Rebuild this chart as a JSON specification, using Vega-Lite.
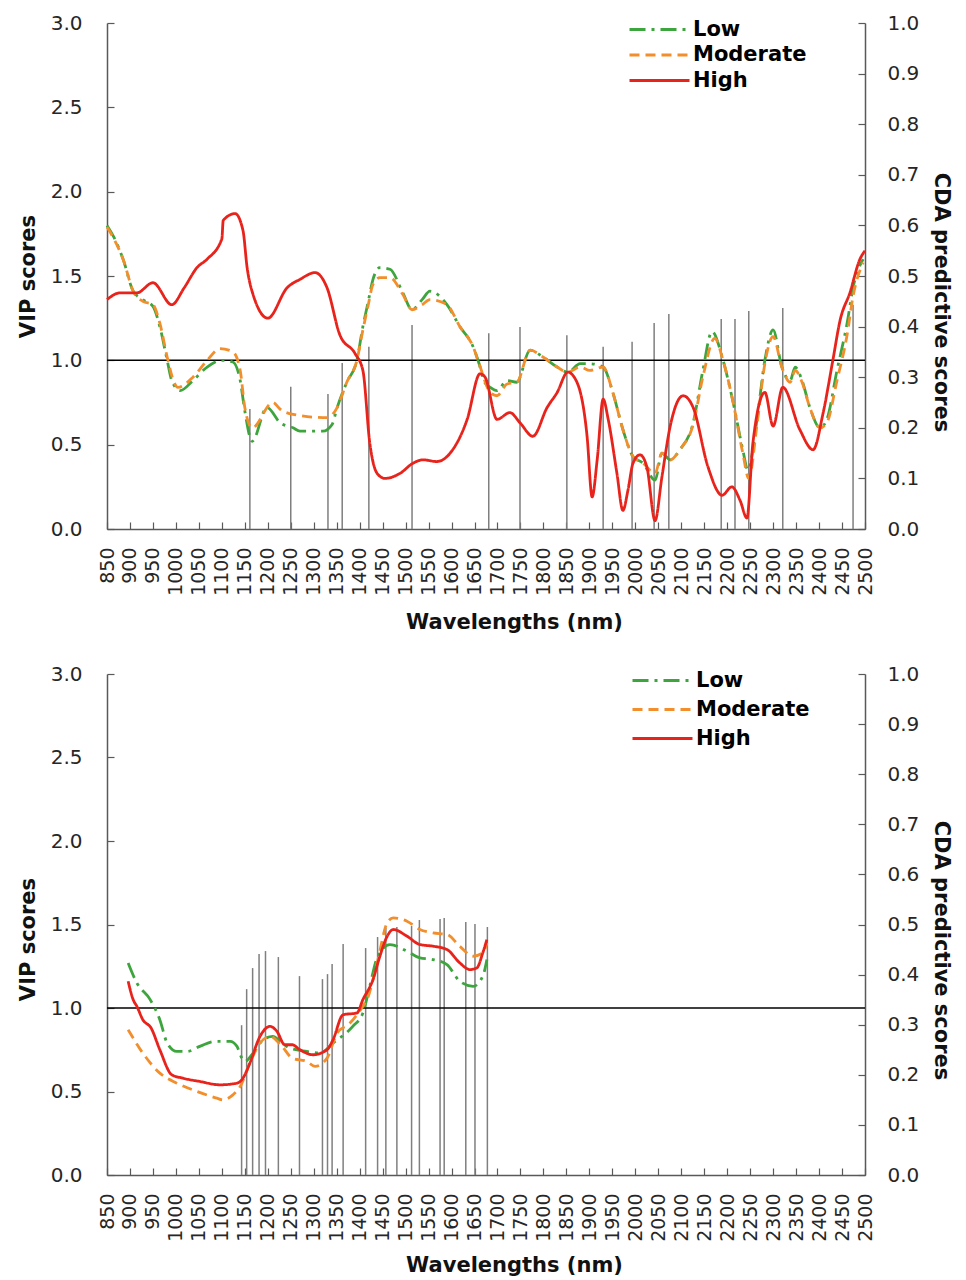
{
  "$schema": "https://vega.github.io/schema/vega-lite/v6.json",
  "padding": {"left": 17, "top": 13, "right": 8, "bottom": 0},
  "background": "white",
  "config": {
    "font": "DejaVu Sans",
    "view": {"stroke": null},
    "concat": {"spacing": 31},
    "axis": {
      "labelFont": "DejaVu Sans", "labelFontSize": 20, "labelColor": "#262626",
      "titleFont": "DejaVu Sans", "titleFontSize": 21, "titleFontWeight": "bold", "titleColor": "#111111",
      "domainColor": "#595959", "domainWidth": 1.5, "tickColor": "#595959", "tickWidth": 1.2, "tickSize": -7,
      "grid": false, "labelFlush": false, "labelOverlap": false, "labelSeparation": 0, "labelBound": false
    },
    "axisX": {"labelOverlap": false},
    "legend": {
      "title": null, "orient": "none",
      "symbolType": "M-3,0L3,0", "symbolSize": 400, "symbolStrokeWidth": 3,
      "labelFont": "DejaVu Sans", "labelFontSize": 21, "labelFontWeight": "bold", "labelColor": "#000000",
      "labelOffset": 22, "padding": 0
    }
  },
  "resolve": {"legend": {"color": "independent", "strokeDash": "independent"}},
  "datasets": {
    "topCDA": [
      {"wl":1161,"cda":0.237},{"wl":1250,"cda":0.281},{"wl":1331,"cda":0.267},{"wl":1362,"cda":0.328},{"wl":1420,"cda":0.360},{"wl":1514,"cda":0.403},
      {"wl":1681,"cda":0.387},{"wl":1749,"cda":0.399},{"wl":1851,"cda":0.383},{"wl":1930,"cda":0.360},{"wl":1993,"cda":0.370},{"wl":2041,"cda":0.407},
      {"wl":2073,"cda":0.425},{"wl":2187,"cda":0.415},{"wl":2217,"cda":0.415},{"wl":2247,"cda":0.431},{"wl":2321,"cda":0.437},{"wl":2474,"cda":0.443}
    ],
    "bottomCDA": [
      {"wl":1143,"cda":0.299},{"wl":1154,"cda":0.371},{"wl":1167,"cda":0.413},{"wl":1181,"cda":0.441},{"wl":1195,"cda":0.447},{"wl":1223,"cda":0.435},
      {"wl":1269,"cda":0.397},{"wl":1319,"cda":0.391},{"wl":1330,"cda":0.401},{"wl":1340,"cda":0.421},{"wl":1364,"cda":0.461},{"wl":1413,"cda":0.453},
      {"wl":1439,"cda":0.475},{"wl":1457,"cda":0.493},{"wl":1481,"cda":0.495},{"wl":1513,"cda":0.497},{"wl":1530,"cda":0.509},{"wl":1575,"cda":0.511},
      {"wl":1584,"cda":0.513},{"wl":1631,"cda":0.505},{"wl":1651,"cda":0.501},{"wl":1678,"cda":0.495}
    ],
    "topVIP": [
      {"wl":850,"level":"Low","vip":1.80},{"wl":865,"level":"Low","vip":1.73},{"wl":885,"level":"Low","vip":1.60},{"wl":907,"level":"Low","vip":1.41},{"wl":928,"level":"Low","vip":1.36},{"wl":950,"level":"Low","vip":1.32},{"wl":965,"level":"Low","vip":1.20},{"wl":981,"level":"Low","vip":1.00},{"wl":991,"level":"Low","vip":0.88},{"wl":1009,"level":"Low","vip":0.82},{"wl":1037,"level":"Low","vip":0.88},{"wl":1068,"level":"Low","vip":0.96},{"wl":1100,"level":"Low","vip":1.00},{"wl":1124,"level":"Low","vip":0.99},{"wl":1140,"level":"Low","vip":0.88},{"wl":1150,"level":"Low","vip":0.70},{"wl":1166,"level":"Low","vip":0.52},{"wl":1198,"level":"Low","vip":0.72},{"wl":1227,"level":"Low","vip":0.63},{"wl":1255,"level":"Low","vip":0.60},{"wl":1270,"level":"Low","vip":0.58},{"wl":1320,"level":"Low","vip":0.58},{"wl":1340,"level":"Low","vip":0.62},{"wl":1351,"level":"Low","vip":0.72},{"wl":1372,"level":"Low","vip":0.87},{"wl":1394,"level":"Low","vip":1.00},{"wl":1407,"level":"Low","vip":1.20},{"wl":1418,"level":"Low","vip":1.34},{"wl":1429,"level":"Low","vip":1.48},{"wl":1444,"level":"Low","vip":1.55},{"wl":1466,"level":"Low","vip":1.54},{"wl":1494,"level":"Low","vip":1.40},{"wl":1514,"level":"Low","vip":1.30},{"wl":1536,"level":"Low","vip":1.36},{"wl":1553,"level":"Low","vip":1.41},{"wl":1590,"level":"Low","vip":1.33},{"wl":1618,"level":"Low","vip":1.20},{"wl":1647,"level":"Low","vip":1.08},{"wl":1660,"level":"Low","vip":0.98},{"wl":1672,"level":"Low","vip":0.87},{"wl":1684,"level":"Low","vip":0.84},{"wl":1699,"level":"Low","vip":0.82},{"wl":1721,"level":"Low","vip":0.88},{"wl":1742,"level":"Low","vip":0.87},{"wl":1771,"level":"Low","vip":1.06},{"wl":1799,"level":"Low","vip":1.02},{"wl":1830,"level":"Low","vip":0.96},{"wl":1853,"level":"Low","vip":0.93},{"wl":1880,"level":"Low","vip":0.98},{"wl":1901,"level":"Low","vip":0.98},{"wl":1930,"level":"Low","vip":0.96},{"wl":1951,"level":"Low","vip":0.81},{"wl":1973,"level":"Low","vip":0.59},{"wl":1995,"level":"Low","vip":0.43},{"wl":2017,"level":"Low","vip":0.39},{"wl":2043,"level":"Low","vip":0.29},{"wl":2058,"level":"Low","vip":0.45},{"wl":2076,"level":"Low","vip":0.41},{"wl":2097,"level":"Low","vip":0.47},{"wl":2126,"level":"Low","vip":0.63},{"wl":2147,"level":"Low","vip":0.94},{"wl":2167,"level":"Low","vip":1.17},{"wl":2191,"level":"Low","vip":1.00},{"wl":2213,"level":"Low","vip":0.75},{"wl":2234,"level":"Low","vip":0.47},{"wl":2245,"level":"Low","vip":0.35},{"wl":2265,"level":"Low","vip":0.65},{"wl":2282,"level":"Low","vip":1.00},{"wl":2300,"level":"Low","vip":1.18},{"wl":2319,"level":"Low","vip":0.96},{"wl":2337,"level":"Low","vip":0.88},{"wl":2348,"level":"Low","vip":0.96},{"wl":2363,"level":"Low","vip":0.88},{"wl":2380,"level":"Low","vip":0.72},{"wl":2402,"level":"Low","vip":0.60},{"wl":2417,"level":"Low","vip":0.65},{"wl":2439,"level":"Low","vip":0.94},{"wl":2461,"level":"Low","vip":1.22},{"wl":2474,"level":"Low","vip":1.43},{"wl":2496,"level":"Low","vip":1.60},
      {"wl":850,"level":"Moderate","vip":1.79},{"wl":865,"level":"Moderate","vip":1.72},{"wl":885,"level":"Moderate","vip":1.60},{"wl":907,"level":"Moderate","vip":1.41},{"wl":928,"level":"Moderate","vip":1.35},{"wl":950,"level":"Moderate","vip":1.33},{"wl":965,"level":"Moderate","vip":1.22},{"wl":981,"level":"Moderate","vip":1.02},{"wl":996,"level":"Moderate","vip":0.87},{"wl":1004,"level":"Moderate","vip":0.84},{"wl":1037,"level":"Moderate","vip":0.90},{"wl":1068,"level":"Moderate","vip":1.00},{"wl":1096,"level":"Moderate","vip":1.07},{"wl":1124,"level":"Moderate","vip":1.05},{"wl":1140,"level":"Moderate","vip":0.94},{"wl":1150,"level":"Moderate","vip":0.72},{"wl":1166,"level":"Moderate","vip":0.60},{"wl":1211,"level":"Moderate","vip":0.75},{"wl":1227,"level":"Moderate","vip":0.71},{"wl":1255,"level":"Moderate","vip":0.68},{"wl":1329,"level":"Moderate","vip":0.66},{"wl":1351,"level":"Moderate","vip":0.72},{"wl":1372,"level":"Moderate","vip":0.87},{"wl":1394,"level":"Moderate","vip":1.00},{"wl":1407,"level":"Moderate","vip":1.18},{"wl":1418,"level":"Moderate","vip":1.32},{"wl":1429,"level":"Moderate","vip":1.45},{"wl":1444,"level":"Moderate","vip":1.49},{"wl":1466,"level":"Moderate","vip":1.49},{"wl":1494,"level":"Moderate","vip":1.39},{"wl":1514,"level":"Moderate","vip":1.30},{"wl":1536,"level":"Moderate","vip":1.33},{"wl":1553,"level":"Moderate","vip":1.36},{"wl":1590,"level":"Moderate","vip":1.33},{"wl":1618,"level":"Moderate","vip":1.20},{"wl":1647,"level":"Moderate","vip":1.08},{"wl":1660,"level":"Moderate","vip":0.98},{"wl":1684,"level":"Moderate","vip":0.81},{"wl":1699,"level":"Moderate","vip":0.79},{"wl":1721,"level":"Moderate","vip":0.86},{"wl":1742,"level":"Moderate","vip":0.87},{"wl":1771,"level":"Moderate","vip":1.06},{"wl":1799,"level":"Moderate","vip":1.02},{"wl":1830,"level":"Moderate","vip":0.96},{"wl":1853,"level":"Moderate","vip":0.93},{"wl":1880,"level":"Moderate","vip":0.96},{"wl":1901,"level":"Moderate","vip":0.94},{"wl":1930,"level":"Moderate","vip":0.96},{"wl":1951,"level":"Moderate","vip":0.81},{"wl":1973,"level":"Moderate","vip":0.59},{"wl":1995,"level":"Moderate","vip":0.43},{"wl":2017,"level":"Moderate","vip":0.39},{"wl":2043,"level":"Moderate","vip":0.33},{"wl":2058,"level":"Moderate","vip":0.45},{"wl":2076,"level":"Moderate","vip":0.41},{"wl":2097,"level":"Moderate","vip":0.47},{"wl":2126,"level":"Moderate","vip":0.62},{"wl":2147,"level":"Moderate","vip":0.90},{"wl":2173,"level":"Moderate","vip":1.13},{"wl":2191,"level":"Moderate","vip":1.00},{"wl":2213,"level":"Moderate","vip":0.75},{"wl":2234,"level":"Moderate","vip":0.45},{"wl":2247,"level":"Moderate","vip":0.30},{"wl":2265,"level":"Moderate","vip":0.62},{"wl":2282,"level":"Moderate","vip":0.98},{"wl":2300,"level":"Moderate","vip":1.14},{"wl":2319,"level":"Moderate","vip":0.96},{"wl":2337,"level":"Moderate","vip":0.87},{"wl":2348,"level":"Moderate","vip":0.94},{"wl":2363,"level":"Moderate","vip":0.87},{"wl":2380,"level":"Moderate","vip":0.72},{"wl":2402,"level":"Moderate","vip":0.60},{"wl":2417,"level":"Moderate","vip":0.63},{"wl":2439,"level":"Moderate","vip":0.88},{"wl":2461,"level":"Moderate","vip":1.15},{"wl":2474,"level":"Moderate","vip":1.38},{"wl":2496,"level":"Moderate","vip":1.58},
      {"wl":850,"level":"High","vip":1.36},{"wl":878,"level":"High","vip":1.40},{"wl":915,"level":"High","vip":1.40},{"wl":950,"level":"High","vip":1.46},{"wl":991,"level":"High","vip":1.33},{"wl":1018,"level":"High","vip":1.43},{"wl":1046,"level":"High","vip":1.55},{"wl":1068,"level":"High","vip":1.60},{"wl":1100,"level":"High","vip":1.72},{"wl":1103,"level":"High","vip":1.83},{"wl":1129,"level":"High","vip":1.87},{"wl":1146,"level":"High","vip":1.77},{"wl":1155,"level":"High","vip":1.55},{"wl":1168,"level":"High","vip":1.39},{"wl":1200,"level":"High","vip":1.25},{"wl":1242,"level":"High","vip":1.43},{"wl":1270,"level":"High","vip":1.48},{"wl":1303,"level":"High","vip":1.52},{"wl":1329,"level":"High","vip":1.43},{"wl":1357,"level":"High","vip":1.15},{"wl":1390,"level":"High","vip":1.04},{"wl":1407,"level":"High","vip":0.94},{"wl":1422,"level":"High","vip":0.51},{"wl":1438,"level":"High","vip":0.33},{"wl":1455,"level":"High","vip":0.30},{"wl":1488,"level":"High","vip":0.33},{"wl":1516,"level":"High","vip":0.39},{"wl":1538,"level":"High","vip":0.41},{"wl":1568,"level":"High","vip":0.40},{"wl":1597,"level":"High","vip":0.45},{"wl":1634,"level":"High","vip":0.65},{"wl":1662,"level":"High","vip":0.92},{"wl":1673,"level":"High","vip":0.90},{"wl":1699,"level":"High","vip":0.65},{"wl":1727,"level":"High","vip":0.69},{"wl":1749,"level":"High","vip":0.63},{"wl":1777,"level":"High","vip":0.55},{"wl":1808,"level":"High","vip":0.72},{"wl":1830,"level":"High","vip":0.81},{"wl":1853,"level":"High","vip":0.93},{"wl":1873,"level":"High","vip":0.87},{"wl":1895,"level":"High","vip":0.55},{"wl":1906,"level":"High","vip":0.19},{"wl":1917,"level":"High","vip":0.41},{"wl":1930,"level":"High","vip":0.77},{"wl":1941,"level":"High","vip":0.65},{"wl":1960,"level":"High","vip":0.33},{"wl":1973,"level":"High","vip":0.11},{"wl":1984,"level":"High","vip":0.23},{"wl":1995,"level":"High","vip":0.39},{"wl":2010,"level":"High","vip":0.44},{"wl":2025,"level":"High","vip":0.37},{"wl":2043,"level":"High","vip":0.05},{"wl":2058,"level":"High","vip":0.31},{"wl":2076,"level":"High","vip":0.61},{"wl":2104,"level":"High","vip":0.79},{"wl":2126,"level":"High","vip":0.72},{"wl":2158,"level":"High","vip":0.37},{"wl":2189,"level":"High","vip":0.20},{"wl":2210,"level":"High","vip":0.25},{"wl":2228,"level":"High","vip":0.17},{"wl":2243,"level":"High","vip":0.065},{"wl":2256,"level":"High","vip":0.51},{"wl":2282,"level":"High","vip":0.81},{"wl":2300,"level":"High","vip":0.61},{"wl":2321,"level":"High","vip":0.84},{"wl":2358,"level":"High","vip":0.59},{"wl":2387,"level":"High","vip":0.47},{"wl":2409,"level":"High","vip":0.69},{"wl":2430,"level":"High","vip":1.00},{"wl":2446,"level":"High","vip":1.24},{"wl":2467,"level":"High","vip":1.40},{"wl":2489,"level":"High","vip":1.60},{"wl":2500,"level":"High","vip":1.65}
    ],
    "bottomVIP": [
      {"wl":896,"level":"Low","vip":1.27},{"wl":915,"level":"Low","vip":1.15},{"wl":944,"level":"Low","vip":1.05},{"wl":965,"level":"Low","vip":0.93},{"wl":981,"level":"Low","vip":0.79},{"wl":1002,"level":"Low","vip":0.74},{"wl":1024,"level":"Low","vip":0.74},{"wl":1052,"level":"Low","vip":0.77},{"wl":1085,"level":"Low","vip":0.80},{"wl":1118,"level":"Low","vip":0.80},{"wl":1133,"level":"Low","vip":0.77},{"wl":1140,"level":"Low","vip":0.72},{"wl":1150,"level":"Low","vip":0.68},{"wl":1168,"level":"Low","vip":0.73},{"wl":1190,"level":"Low","vip":0.81},{"wl":1211,"level":"Low","vip":0.83},{"wl":1231,"level":"Low","vip":0.79},{"wl":1248,"level":"Low","vip":0.76},{"wl":1285,"level":"Low","vip":0.74},{"wl":1314,"level":"Low","vip":0.73},{"wl":1342,"level":"Low","vip":0.79},{"wl":1385,"level":"Low","vip":0.89},{"wl":1407,"level":"Low","vip":0.97},{"wl":1422,"level":"Low","vip":1.13},{"wl":1438,"level":"Low","vip":1.30},{"wl":1466,"level":"Low","vip":1.38},{"wl":1503,"level":"Low","vip":1.34},{"wl":1531,"level":"Low","vip":1.30},{"wl":1560,"level":"Low","vip":1.29},{"wl":1590,"level":"Low","vip":1.26},{"wl":1618,"level":"Low","vip":1.16},{"wl":1647,"level":"Low","vip":1.13},{"wl":1668,"level":"Low","vip":1.19},{"wl":1677,"level":"Low","vip":1.29},
      {"wl":896,"level":"Moderate","vip":0.87},{"wl":928,"level":"Moderate","vip":0.73},{"wl":965,"level":"Moderate","vip":0.61},{"wl":1002,"level":"Moderate","vip":0.55},{"wl":1046,"level":"Moderate","vip":0.50},{"wl":1089,"level":"Moderate","vip":0.46},{"wl":1102,"level":"Moderate","vip":0.45},{"wl":1124,"level":"Moderate","vip":0.48},{"wl":1140,"level":"Moderate","vip":0.53},{"wl":1161,"level":"Moderate","vip":0.67},{"wl":1183,"level":"Moderate","vip":0.79},{"wl":1205,"level":"Moderate","vip":0.83},{"wl":1231,"level":"Moderate","vip":0.77},{"wl":1253,"level":"Moderate","vip":0.70},{"wl":1285,"level":"Moderate","vip":0.68},{"wl":1303,"level":"Moderate","vip":0.65},{"wl":1329,"level":"Moderate","vip":0.70},{"wl":1351,"level":"Moderate","vip":0.85},{"wl":1379,"level":"Moderate","vip":0.91},{"wl":1407,"level":"Moderate","vip":1.01},{"wl":1416,"level":"Moderate","vip":1.05},{"wl":1438,"level":"Moderate","vip":1.27},{"wl":1460,"level":"Moderate","vip":1.51},{"wl":1473,"level":"Moderate","vip":1.54},{"wl":1503,"level":"Moderate","vip":1.52},{"wl":1531,"level":"Moderate","vip":1.47},{"wl":1560,"level":"Moderate","vip":1.45},{"wl":1590,"level":"Moderate","vip":1.44},{"wl":1618,"level":"Moderate","vip":1.37},{"wl":1647,"level":"Moderate","vip":1.31},{"wl":1668,"level":"Moderate","vip":1.33},{"wl":1677,"level":"Moderate","vip":1.39},
      {"wl":896,"level":"High","vip":1.16},{"wl":907,"level":"High","vip":1.05},{"wl":915,"level":"High","vip":1.01},{"wl":928,"level":"High","vip":0.93},{"wl":946,"level":"High","vip":0.88},{"wl":965,"level":"High","vip":0.75},{"wl":991,"level":"High","vip":0.60},{"wl":1015,"level":"High","vip":0.58},{"wl":1052,"level":"High","vip":0.56},{"wl":1096,"level":"High","vip":0.54},{"wl":1133,"level":"High","vip":0.55},{"wl":1146,"level":"High","vip":0.58},{"wl":1161,"level":"High","vip":0.67},{"wl":1183,"level":"High","vip":0.83},{"wl":1205,"level":"High","vip":0.89},{"wl":1220,"level":"High","vip":0.86},{"wl":1237,"level":"High","vip":0.78},{"wl":1253,"level":"High","vip":0.78},{"wl":1270,"level":"High","vip":0.75},{"wl":1298,"level":"High","vip":0.72},{"wl":1329,"level":"High","vip":0.75},{"wl":1342,"level":"High","vip":0.81},{"wl":1364,"level":"High","vip":0.96},{"wl":1394,"level":"High","vip":0.97},{"wl":1407,"level":"High","vip":1.05},{"wl":1429,"level":"High","vip":1.17},{"wl":1444,"level":"High","vip":1.31},{"wl":1460,"level":"High","vip":1.43},{"wl":1473,"level":"High","vip":1.47},{"wl":1503,"level":"High","vip":1.43},{"wl":1531,"level":"High","vip":1.38},{"wl":1560,"level":"High","vip":1.37},{"wl":1590,"level":"High","vip":1.35},{"wl":1618,"level":"High","vip":1.27},{"wl":1640,"level":"High","vip":1.23},{"wl":1655,"level":"High","vip":1.24},{"wl":1668,"level":"High","vip":1.33},{"wl":1677,"level":"High","vip":1.41}
    ]
  },
  "vconcat": [
    {
      "width": 758, "height": 506,
      "layer": [
        {
          "data": {"name": "topCDA"},
          "mark": {"type": "rule", "color": "#7f7f7f", "strokeWidth": 1.5},
          "encoding": {
            "x": {"field": "wl", "type": "quantitative", "scale": {"domain": [850, 2500], "nice": false, "zero": false},
              "axis": {"title": "Wavelengths (nm)", "values": [850,900,950,1000,1050,1100,1150,1200,1250,1300,1350,1400,1450,1500,1550,1600,1650,1700,1750,1800,1850,1900,1950,2000,2050,2100,2150,2200,2250,2300,2350,2400,2450,2500],
                "format": "d", "labelOverlap": false, "labelSeparation": 0, "labelAngle": 270, "labelFontSize": 19, "labelPadding": 25, "titleX": 407, "titlePadding": 16}},
            "y": {"field": "cda", "type": "quantitative", "scale": {"domain": [0, 1]},
              "axis": {"orient": "right", "title": "CDA predictive scores", "values": [0,0.1,0.2,0.3,0.4,0.5,0.6,0.7,0.8,0.9,1.0], "format": ".1f", "labelPadding": 29, "titlePadding": 12, "titleY": 279}},
            "y2": {"datum": 0}
          }
        },
        {
          "data": {"values": [{}]},
          "mark": {"type": "rule", "color": "#000000", "strokeWidth": 1.5},
          "encoding": {"y": {"datum": 1, "type": "quantitative", "scale": {"domain": [0, 3]}, "axis": null}}
        },
        {
          "data": {"name": "topVIP"},
          "mark": {"type": "line", "strokeWidth": 2.8, "interpolate": "monotone"},
          "encoding": {
            "x": {"field": "wl", "type": "quantitative",
              "axis": {"title": "Wavelengths (nm)", "values": [850,900,950,1000,1050,1100,1150,1200,1250,1300,1350,1400,1450,1500,1550,1600,1650,1700,1750,1800,1850,1900,1950,2000,2050,2100,2150,2200,2250,2300,2350,2400,2450,2500],
                "format": "d", "labelOverlap": false, "labelSeparation": 0, "labelAngle": 270, "labelFontSize": 19, "labelPadding": 25, "titleX": 407, "titlePadding": 16}},
            "y": {"field": "vip", "type": "quantitative", "scale": {"domain": [0, 3]},
              "axis": {"orient": "left", "title": "VIP scores", "values": [0,0.5,1,1.5,2,2.5,3], "format": ".1f", "labelPadding": 32, "titlePadding": 12}},
            "color": {"field": "level", "type": "nominal", "scale": {"domain": ["Low","Moderate","High"], "range": ["#3DA53D","#F28E2B","#E8231B"]},
              "legend": {"legendX": 541, "legendY": -5, "rowPadding": 3.5}},
            "strokeDash": {"field": "level", "type": "nominal", "scale": {"domain": ["Low","Moderate","High"], "range": [[16,6,3,6],[10,6],[1,0]]},
              "legend": {"legendX": 541, "legendY": -5, "rowPadding": 3.5}}
          }
        }
      ],
      "resolve": {"scale": {"y": "independent"}}
    },
    {
      "width": 758, "height": 501,
      "layer": [
        {
          "data": {"name": "bottomCDA"},
          "mark": {"type": "rule", "color": "#7f7f7f", "strokeWidth": 1.5},
          "encoding": {
            "x": {"field": "wl", "type": "quantitative", "scale": {"domain": [850, 2500], "nice": false, "zero": false},
              "axis": {"title": "Wavelengths (nm)", "values": [850,900,950,1000,1050,1100,1150,1200,1250,1300,1350,1400,1450,1500,1550,1600,1650,1700,1750,1800,1850,1900,1950,2000,2050,2100,2150,2200,2250,2300,2350,2400,2450,2500],
                "format": "d", "labelOverlap": false, "labelSeparation": 0, "labelAngle": 270, "labelFontSize": 19, "labelPadding": 25, "titleX": 407, "titlePadding": 13}},
            "y": {"field": "cda", "type": "quantitative", "scale": {"domain": [0, 1]},
              "axis": {"orient": "right", "title": "CDA predictive scores", "values": [0,0.1,0.2,0.3,0.4,0.5,0.6,0.7,0.8,0.9,1.0], "format": ".1f", "labelPadding": 29, "titlePadding": 12, "titleY": 276}},
            "y2": {"datum": 0}
          }
        },
        {
          "data": {"values": [{}]},
          "mark": {"type": "rule", "color": "#000000", "strokeWidth": 1.5},
          "encoding": {"y": {"datum": 1, "type": "quantitative", "scale": {"domain": [0, 3]}, "axis": null}}
        },
        {
          "data": {"name": "bottomVIP"},
          "mark": {"type": "line", "strokeWidth": 2.8, "interpolate": "monotone"},
          "encoding": {
            "x": {"field": "wl", "type": "quantitative",
              "axis": {"title": "Wavelengths (nm)", "values": [850,900,950,1000,1050,1100,1150,1200,1250,1300,1350,1400,1450,1500,1550,1600,1650,1700,1750,1800,1850,1900,1950,2000,2050,2100,2150,2200,2250,2300,2350,2400,2450,2500],
                "format": "d", "labelOverlap": false, "labelSeparation": 0, "labelAngle": 270, "labelFontSize": 19, "labelPadding": 25, "titleX": 407, "titlePadding": 13}},
            "y": {"field": "vip", "type": "quantitative", "scale": {"domain": [0, 3]},
              "axis": {"orient": "left", "title": "VIP scores", "values": [0,0.5,1,1.5,2,2.5,3], "format": ".1f", "labelPadding": 32, "titlePadding": 12, "titleY": 265}},
            "color": {"field": "level", "type": "nominal", "scale": {"domain": ["Low","Moderate","High"], "range": ["#3DA53D","#F28E2B","#E8231B"]},
              "legend": {"legendX": 544, "legendY": -5, "rowPadding": 7}},
            "strokeDash": {"field": "level", "type": "nominal", "scale": {"domain": ["Low","Moderate","High"], "range": [[16,6,3,6],[10,6],[1,0]]},
              "legend": {"legendX": 544, "legendY": -5, "rowPadding": 7}}
          }
        }
      ],
      "resolve": {"scale": {"y": "independent"}}
    }
  ]
}
